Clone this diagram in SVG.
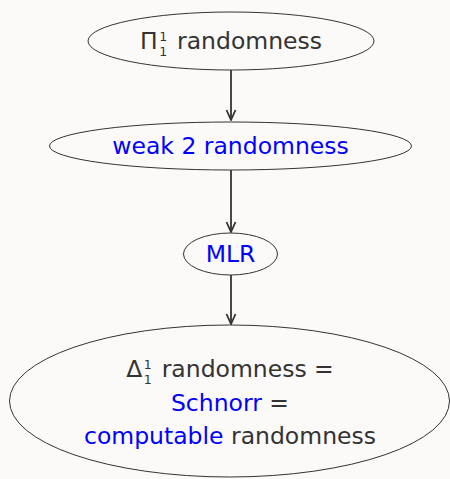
<svg xmlns="http://www.w3.org/2000/svg" width="450" height="479" viewBox="0 0 450 479">
<style>
.n{fill:none;stroke:#333;stroke-width:1}
.t{font-family:"DejaVu Sans",sans-serif;font-size:23.5px;fill:#333;text-anchor:middle}
.s{font-size:12.5px}
.b{fill:#0000ff}
.e{stroke:#333;stroke-width:1.8;fill:none}
</style>
<defs>
<marker id="ah" viewBox="0 0 12 12" refX="11" refY="6" markerWidth="12" markerHeight="12" markerUnits="userSpaceOnUse" orient="auto">
<path d="M1,1.5 L11,6 L1,10.5" fill="none" stroke="#333" stroke-width="1.8"/>
</marker>
</defs>
<rect width="450" height="479" fill="#fbfaf8"/>
<g id="connectors">
<line class="e" x1="231" y1="70" x2="231" y2="120" marker-end="url(#ah)"/>
<line class="e" x1="231" y1="170" x2="231" y2="232" marker-end="url(#ah)"/>
<line class="e" x1="231" y1="275" x2="231" y2="324" marker-end="url(#ah)"/>
</g>
<g id="pi11">
<ellipse class="n" cx="231" cy="41" rx="143" ry="29"/>
<text class="t" x="231" y="49">Π<tspan class="s" dx="1.5" dy="-8.5">1</tspan><tspan class="s" dx="-7.95" dy="15">1</tspan><tspan dx="2.5" dy="-6.5"> randomness</tspan></text>
</g>
<g id="weak2">
<ellipse class="n" cx="230.5" cy="146" rx="181" ry="24"/>
<text class="t b" x="230.5" y="154">weak 2 randomness</text>
</g>
<g id="mlr">
<ellipse class="n" cx="230.5" cy="254" rx="47" ry="21"/>
<text class="t b" x="230.5" y="262">MLR</text>
</g>
<g id="delta11">
<ellipse class="n" cx="229.5" cy="401" rx="220" ry="76"/>
<text class="t" x="230" y="377">Δ<tspan class="s" dx="1.5" dy="-8.5">1</tspan><tspan class="s" dx="-7.95" dy="15">1</tspan><tspan dx="2.5" dy="-6.5"> randomness =</tspan></text>
<text class="t" x="230" y="411"><tspan class="b">Schnorr</tspan> =</text>
<text class="t" x="230" y="444"><tspan class="b">computable</tspan> randomness</text>
</g>
</svg>
